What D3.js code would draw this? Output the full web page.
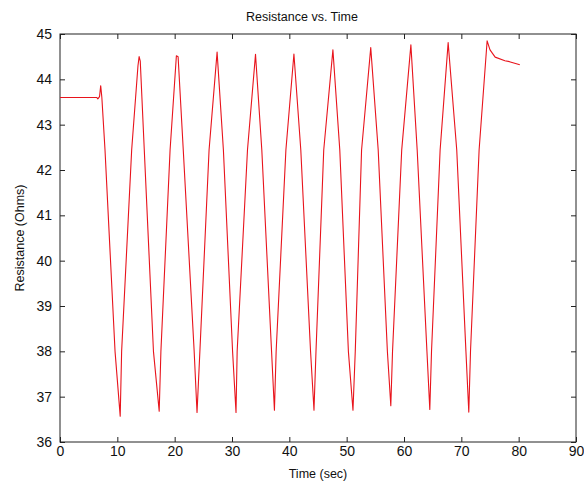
<!DOCTYPE html>
<html>
<head>
<meta charset="utf-8">
<script src="https://cdn.jsdelivr.net/npm/d3@7"></script>
<style>
  body { margin: 0; background: #fff; }
  svg { display: block; font-family: "Liberation Sans", Arial, sans-serif; }
  .tick text { fill: #111; font-size: 14px; }
  .tick line { stroke: #222; }
</style>
</head>
<body>
<div id="chart"></div>
<script>
// time (s) and resistance (Ohms)
const timeSec = [
  0, 6.4, 6.6, 6.9, 7.1, 7.3, 7.85, 9.6, 10.5, 10.75, 12.5, 13.6, 13.8, 14.0, 14.7,
  16.3, 17.3, 17.6, 19.2, 20.3, 20.6, 21.5,
  23.4, 23.9, 24.4, 26.0, 27.4, 28.5,
  30.1, 30.7, 30.9, 32.7, 34.1, 35.2,
  36.9, 37.4, 37.7, 39.4, 40.8, 42.0,
  43.7, 44.3, 44.65, 46.0, 47.6, 48.8,
  50.3, 51.1, 51.5, 52.6, 54.2, 55.5,
  57.1, 57.7, 58.0, 59.6, 61.2, 62.3,
  64.0, 64.5, 64.8, 66.3, 67.7, 69.2,
  70.8, 71.3, 71.6, 73.1, 74.5,
  75.0, 75.9, 77.6, 78.4, 80.2
];
const resistanceOhms = [
  43.6, 43.6, 43.57, 43.62, 43.86, 43.6, 42.44, 38.0, 36.57, 38.0, 42.44, 44.3, 44.5, 44.4, 42.44,
  38.0, 36.68, 38.0, 42.44, 44.52, 44.5, 42.44,
  38.0, 36.65, 38.0, 42.44, 44.6, 42.44,
  38.0, 36.65, 38.0, 42.44, 44.55, 42.44,
  38.0, 36.7, 38.0, 42.44, 44.56, 42.44,
  38.0, 36.7, 38.0, 42.44, 44.65, 42.44,
  38.0, 36.7, 38.0, 42.44, 44.7, 42.44,
  38.0, 36.8, 38.0, 42.44, 44.76, 42.44,
  38.0, 36.72, 38.0, 42.44, 44.81, 42.44,
  38.0, 36.66, 38.0, 42.44, 44.85,
  44.65, 44.49, 44.41, 44.39, 44.32
];
const xTicks = [0, 10, 20, 30, 40, 50, 60, 70, 80, 90];
const yTicks = [36, 37, 38, 39, 40, 41, 42, 43, 44, 45];

const width = 584;
const height = 483;
const margin = {top: 34, right: 8, bottom: 41, left: 60};
const innerW = width - margin.left - margin.right;
const innerH = height - margin.top - margin.bottom;

const x = d3.scaleLinear().domain([0, 90]).range([0, innerW]);
const y = d3.scaleLinear().domain([36, 45]).range([innerH, 0]);

const svg = d3.select('#chart')
  .append('svg')
  .attr('width', width)
  .attr('height', height);

const g = svg.append('g')
  .attr('transform', `translate(${margin.left}, ${margin.top})`);

// ticks point inward on all four sides, matlab style
g.append('g')
  .attr('transform', `translate(0, ${innerH})`)
  .call(d3.axisBottom(x).tickValues(xTicks).tickSizeInner(-5).tickSizeOuter(0).tickPadding(4))
  .call(a => a.select('.domain').remove());
g.append('g')
  .call(d3.axisLeft(y).tickValues(yTicks).tickSizeInner(-5).tickSizeOuter(0).tickPadding(8))
  .call(a => a.select('.domain').remove());
g.append('g')
  .call(d3.axisTop(x).tickValues(xTicks).tickSizeInner(-5).tickSizeOuter(0).tickFormat(''))
  .call(a => a.select('.domain').remove());
g.append('g')
  .attr('transform', `translate(${innerW}, 0)`)
  .call(d3.axisRight(y).tickValues(yTicks).tickSizeInner(-5).tickSizeOuter(0).tickFormat(''))
  .call(a => a.select('.domain').remove());

g.append('rect')
  .attr('width', innerW)
  .attr('height', innerH)
  .attr('fill', 'none')
  .attr('stroke', '#222')
  .attr('stroke-width', 1);

const line = d3.line()
  .x((d, i) => x(timeSec[i]))
  .y(d => y(d));

g.append('path')
  .datum(resistanceOhms)
  .attr('fill', 'none')
  .attr('stroke', '#e8141c')
  .attr('stroke-width', 1.1)
  .attr('stroke-linejoin', 'round')
  .attr('d', line);

// title and axis names
svg.append('text')
  .attr('x', 302)
  .attr('y', 21)
  .attr('text-anchor', 'middle')
  .style('font-size', '12.5px')
  .attr('fill', '#111')
  .text('Resistance vs. Time');
svg.append('text')
  .attr('x', margin.left + innerW / 2)
  .attr('y', 478)
  .attr('text-anchor', 'middle')
  .style('font-size', '12.5px')
  .attr('fill', '#111')
  .text('Time (sec)');
svg.append('text')
  .attr('transform', `translate(24, ${margin.top + innerH / 2}) rotate(-90)`)
  .attr('text-anchor', 'middle')
  .style('font-size', '12.5px')
  .attr('fill', '#111')
  .text('Resistance (Ohms)');
</script>
</body>
</html>
